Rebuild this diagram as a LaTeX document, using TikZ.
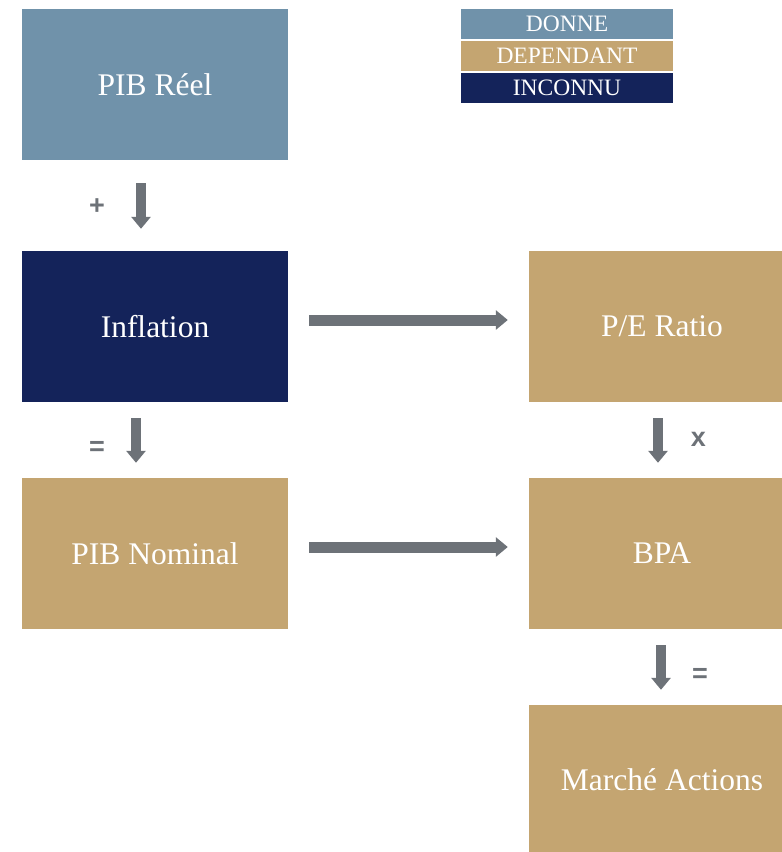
\documentclass[tikz,border=0pt]{standalone}
\usepackage{fontspec}
\setmainfont{Liberation Serif}
\newfontfamily\opfont{Liberation Sans}
\usetikzlibrary{arrows.meta}
\definecolor{cblue}{HTML}{7092AA}
\definecolor{cnavy}{HTML}{14235A}
\definecolor{ctan}{HTML}{C4A571}
\definecolor{cgray}{HTML}{6D7278}
\begin{document}
\begin{tikzpicture}[x=1pt,y=-1pt,
  box/.style={rectangle,inner sep=0pt,minimum width=266pt,minimum height=151pt,text=white,font=\fontsize{31.5}{36}\selectfont},
  leg/.style={rectangle,inner sep=0pt,minimum width=212pt,minimum height=30pt,text=white,font=\fontsize{23.5}{26}\selectfont},
  arr/.style={draw=cgray,line width=11pt,line cap=butt,-{Triangle[width=19pt,length=12pt]}},
  varr/.style={arr,line width=10pt},
  op/.style={text=cgray,font=\opfont\bfseries\fontsize{27}{30}\selectfont,inner sep=0pt}]
\useasboundingbox (0,0) rectangle (782,852);
\node[box,fill=cblue] (pib) at (155,84.5) {PIB Réel};
\node[box,fill=cnavy] (inf) at (155,326.5) {Inflation};
\node[box,fill=ctan] (nom) at (155,553.5) {PIB Nominal};
\node[box,fill=ctan] (pe) at (662,326.5) {P/E Ratio};
\node[box,fill=ctan] (bpa) at (662,553.5) {BPA};
\node[box,fill=ctan,minimum height=149pt] (ma) at (662,779.5) {Marché Actions};
\node[leg,fill=cblue] (l1) at (567,24) {DONNE};
\node[leg,fill=ctan] (l2) at (567,56) {DEPENDANT};
\node[leg,fill=cnavy] (l3) at (567,88) {INCONNU};
\draw[varr] ([xshift=-14pt,yshift=-23pt]pib.south) -- ([xshift=-14pt,yshift=22pt]inf.north);
\draw[varr] ([xshift=-19pt,yshift=-16pt]inf.south) -- ([xshift=-19pt,yshift=15pt]nom.north);
\draw[arr] ([xshift=21pt,yshift=6.5pt]inf.east) -- ([xshift=-21pt,yshift=6.5pt]pe.west);
\draw[arr] ([xshift=21pt,yshift=6.5pt]nom.east) -- ([xshift=-21pt,yshift=6.5pt]bpa.west);
\draw[varr] ([xshift=-4pt,yshift=-16pt]pe.south) -- ([xshift=-4pt,yshift=15pt]bpa.north);
\draw[varr] ([xshift=-1pt,yshift=-16pt]bpa.south) -- ([xshift=-1pt,yshift=15pt]ma.north);
\node[op] (o1) at (97,206.5) {+};
\node[op] (o2) at (97,448.5) {=};
\node[op] (o3) at (698.5,439.5) {x};
\node[op] (o4) at (700,675.5) {=};
\end{tikzpicture}
\end{document}
